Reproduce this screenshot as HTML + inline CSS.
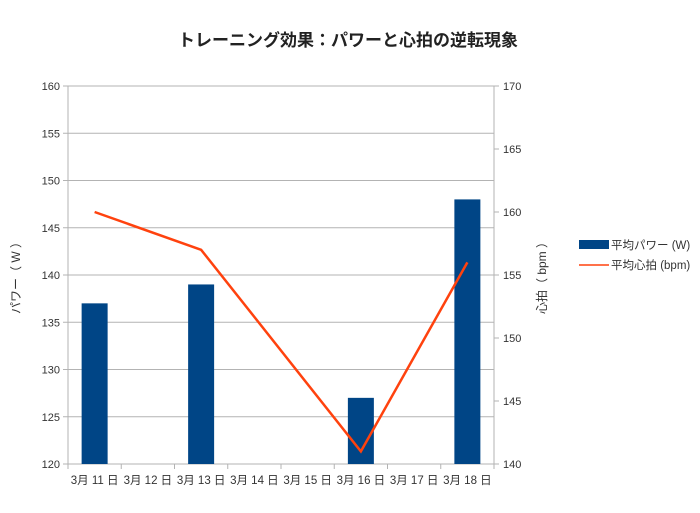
<!DOCTYPE html>
<html><head><meta charset="utf-8"><style>
body{margin:0;background:#fff;}
svg{display:block;font-family:"Liberation Sans","Noto Sans CJK JP",sans-serif;}
</style></head><body>
<svg id="c" width="700" height="513">
<text x="348" y="46" text-anchor="middle" font-size="17" font-weight="bold" fill="#222">トレーニング効果：パワーと心拍の逆転現象</text>
</svg>
<script>
const categories=["3月 11 日","3月 12 日","3月 13 日","3月 14 日","3月 15 日","3月 16 日","3月 17 日","3月 18 日"];
const powerVals=[137,null,139,null,null,127,null,148];
const hrVals=[160,null,157,null,null,141,null,156];
const leftTicks=[120,125,130,135,140,145,150,155,160];
const rightTicks=[140,145,150,155,160,165,170];
const svg=document.getElementById('c');
const NS='http://www.w3.org/2000/svg';
const L=68,R=494,T=86,B=464;
const yL=v=>B-(v-120)/40*(B-T);
const yR=v=>B-(v-140)/30*(B-T);
const cw=(R-L)/categories.length;
const xc=i=>L+cw*(i+0.5);
function mk(t,a,p){const e=document.createElementNS(NS,t);for(const k in a)e.setAttribute(k,a[k]);(p||svg).appendChild(e);return e;}
leftTicks.forEach(v=>{
 const g=mk('line',{x1:L-5,x2:R,y1:yL(v),y2:yL(v),stroke:'#b3b3b3','stroke-width':1});
 
 
 const t=mk('text',{x:L-8,y:yL(v)+4,'text-anchor':'end','font-size':11,fill:'#333'});t.textContent=v;
 
 
});
rightTicks.forEach(v=>{
 mk('line',{x1:R,x2:R+5,y1:yR(v),y2:yR(v),stroke:'#b3b3b3'});
 const t=mk('text',{x:R+9,y:yR(v)+4,'font-size':11,fill:'#333'});t.textContent=v;
 
 
});
mk('line',{x1:L,x2:L,y1:T,y2:B,stroke:'#b3b3b3'});
mk('line',{x1:R,x2:R,y1:T,y2:B,stroke:'#b3b3b3'});
for(let i=0;i<=categories.length;i++)mk('line',{x1:L+cw*i,x2:L+cw*i,y1:B,y2:B+5,stroke:'#b3b3b3'});
categories.forEach((c,i)=>{
 const t=mk('text',{x:xc(i),y:B+20,'text-anchor':'middle','font-size':11.5,fill:'#333'});t.textContent=c;
 
 
 if(powerVals[i]!=null){
  const b=mk('rect',{x:xc(i)-13,y:yL(powerVals[i]),width:26,height:B-yL(powerVals[i]),fill:'#004586'});
  
  
 }
});
const pts=hrVals.map((v,i)=>v==null?null:[xc(i),yR(v)]).filter(p=>p);
const pl=mk('polyline',{points:pts.map(p=>p.join(',')).join(' '),fill:'none',stroke:'#ff420e','stroke-width':2.5});


</script>
<svg style="position:absolute;left:0;top:0" width="700" height="513">
<text transform="translate(20,275) rotate(-90)" text-anchor="middle" font-size="12" fill="#333">パワー（ W ）</text>
<text transform="translate(546,275) rotate(-90)" text-anchor="middle" font-size="12" fill="#333">心拍（ bpm ）</text>
<g>
<rect x="579" y="240" width="30" height="9" fill="#004586"/>
<text x="611" y="249" font-size="11.5" fill="#333">平均パワー (W)</text>
<line x1="579" y1="265" x2="609" y2="265" stroke="#ff420e" stroke-width="1.5"/>
<text x="611" y="269" font-size="11.5" fill="#333">平均心拍 (bpm)</text>
</g>
</svg>
</body></html>
